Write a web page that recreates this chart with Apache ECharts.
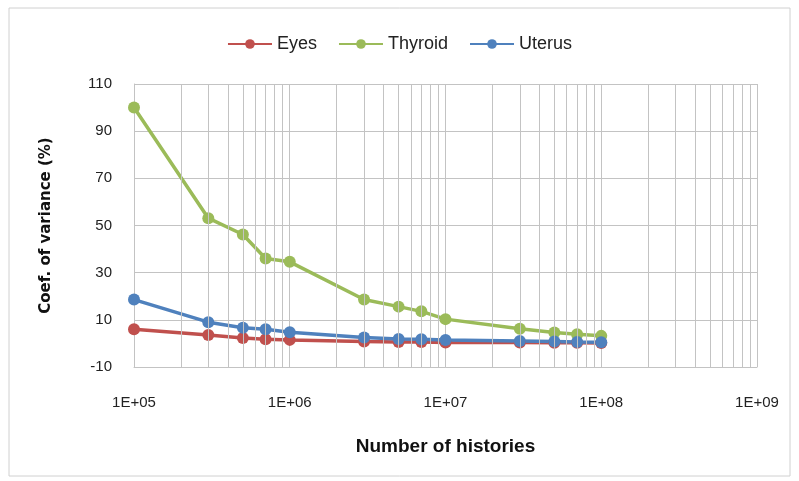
<!DOCTYPE html>
<html>
<head>
<meta charset="utf-8">
<script src="https://cdn.jsdelivr.net/npm/echarts@6/dist/echarts.min.js"></script>
<style>html,body{margin:0;padding:0;background:#fff;}#c{width:799px;height:481px;}</style>
</head>
<body>
<div id="c"></div>
<script>
const histories = [1e5, 3e5, 5e5, 7e5, 1e6, 3e6, 5e6, 7e6, 1e7, 3e7, 5e7, 7e7, 1e8];
const eyes    = [6.0, 3.6, 2.3, 1.8, 1.5, 0.8, 0.6, 0.6, 0.4, 0.4, 0.3, 0.3, 0.2];
const thyroid = [100, 53.1, 46.2, 36.0, 34.6, 18.6, 15.6, 13.6, 10.3, 6.2, 4.6, 3.9, 3.2];
const uterus  = [18.6, 9.0, 6.6, 6.0, 4.7, 2.5, 1.9, 1.8, 1.4, 1.0, 0.8, 0.6, 0.5];
const xTicks = ['1E+05', '1E+06', '1E+07', '1E+08', '1E+09'];
const yTicks = [-10, 10, 30, 50, 70, 90, 110];

// minor log gridlines (2..9 x 10^n)
const minorVals = [];
for (let d = 5; d < 9; d++) for (let k = 2; k <= 9; k++) minorVals.push(k * Math.pow(10, d));

const font = "'Liberation Sans',Arial,sans-serif";
const gridColor = '#c3c3c3';
const pair = arr => histories.map((x, i) => [x, arr[i]]);
const mk = (name, color, arr) => ({
  name, type: 'line', data: pair(arr), z: 3,
  symbol: 'circle', symbolSize: 12,
  itemStyle: { color },
  lineStyle: { color, width: 3.5 },
  animation: false
});

const chart = echarts.init(document.getElementById('c'));
chart.setOption({
  backgroundColor: '#fff',
  animation: false,
  graphic: [{
    type: 'rect', shape: { x: 9, y: 8, width: 781, height: 468 },
    style: { fill: 'none', stroke: '#d0d0d0', lineWidth: 1 }, silent: true, z: -1
  }],
  legend: {
    data: ['Eyes', 'Thyroid', 'Uterus'],
    top: 30, left: 'center',
    itemWidth: 44, itemHeight: 12, itemGap: 21,
    textStyle: { fontFamily: font, fontSize: 18, color: '#222' }
  },
  grid: { left: 134, right: 42, top: 84, bottom: 114, containLabel: false },
  xAxis: {
    type: 'log', logBase: 10, min: 1e5, max: 1e9,
    name: 'Number of histories', nameLocation: 'middle', nameGap: 70,
    nameTextStyle: { fontFamily: font, fontSize: 19, fontWeight: 'bold', color: '#111' },
    axisLine: { show: true, onZero: false, lineStyle: { color: gridColor } },
    axisTick: { show: false },
    axisLabel: {
      margin: 28, fontFamily: font, fontSize: 15, color: '#222',
      formatter: v => { const e = Math.round(Math.log10(v)); const s = xTicks.find(t => t === '1E+' + String(e).padStart(2, '0')); return s || ''; }
    },
    splitLine: { show: true, lineStyle: { color: gridColor, width: 1 } }
  },
  yAxis: {
    type: 'value', min: yTicks[0], max: yTicks[yTicks.length - 1], interval: 20,
    name: 'Coef. of variance (%)', nameLocation: 'middle', nameGap: 80,
    nameTextStyle: { fontFamily: "'DejaVu Sans',Verdana,sans-serif", fontSize: 15, fontWeight: 'bold', color: '#111' },
    axisLine: { show: true, lineStyle: { color: gridColor } },
    axisTick: { show: false },
    axisLabel: { margin: 22, fontFamily: font, fontSize: 15, color: '#222' },
    splitLine: { show: true, lineStyle: { color: gridColor, width: 1 } }
  },
  series: [
    {
      name: 'minor', type: 'line', data: [], z: 1, silent: true,
      markLine: {
        silent: true, symbol: 'none', animation: false,
        label: { show: false },
        lineStyle: { color: gridColor, type: 'solid', width: 1 },
        data: minorVals.map(v => ({ xAxis: v }))
      }
    },
    mk('Eyes', '#C0504D', eyes),
    mk('Thyroid', '#9BBB59', thyroid),
    mk('Uterus', '#4F81BD', uterus)
  ]
});
</script>
</body>
</html>
